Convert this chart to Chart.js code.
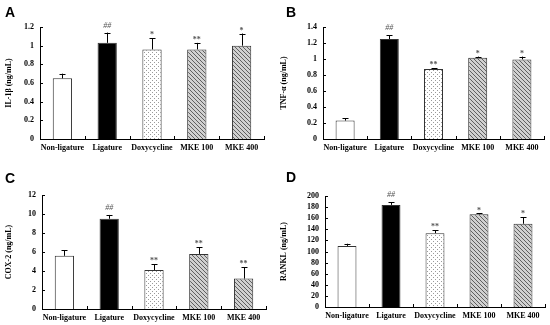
<!DOCTYPE html>
<html>
<head>
<meta charset="utf-8">
<script src="https://cdn.jsdelivr.net/npm/chart.js@4.4.1/dist/chart.umd.min.js"></script>
<style>
  body { margin: 0; background: #fff; }
  #wrap { position: relative; width: 550px; height: 325px; overflow: hidden; }
  canvas { position: absolute; }
  .lbl { position: absolute; font: bold 14px "Liberation Sans", Arial, sans-serif; color: #000; }
</style>
</head>
<body>
<div id="wrap">
  <canvas id="cA" width="275" height="163" style="left:0;top:0"></canvas>
  <canvas id="cB" width="275" height="163" style="left:275px;top:0"></canvas>
  <canvas id="cC" width="275" height="162" style="left:0;top:163px"></canvas>
  <canvas id="cD" width="275" height="162" style="left:275px;top:163px"></canvas>
  <div class="lbl" style="left:5px;top:4px">A</div>
  <div class="lbl" style="left:286px;top:4px">B</div>
  <div class="lbl" style="left:5px;top:170px">C</div>
  <div class="lbl" style="left:286px;top:169px">D</div>
</div>
<script>
// groups on the x axis
const groups = ["Non-ligature", "Ligature", "Doxycycline", "MKE 100", "MKE 400"];

// A: IL-1β
const il1bMean = [0.65, 1.03, 0.96, 0.96, 1.00];
const il1bErr = [0.05, 0.11, 0.12, 0.07, 0.13];
const il1bMarks = ["", "##", "*", "**", "*"];

// B: TNF-α
const tnfMean = [0.23, 1.25, 0.875, 1.015, 0.995];
const tnfErr = [0.03, 0.05, 0.01, 0.015, 0.035];
const tnfMarks = ["", "##", "**", "*", "*"];

// C: COX-2
const coxMean = [5.6, 9.5, 4.1, 5.8, 3.2];
const coxErr = [0.6, 0.4, 0.6, 0.7, 1.2];
const coxMarks = ["", "##", "**", "**", "**"];

// D: RANKL
const ranklMean = [110, 184, 133, 167, 150];
const ranklErr = [4, 5, 5, 1.5, 12];
const ranklMarks = ["", "##", "**", "*", "*"];

const serif = "'Liberation Serif', 'Times New Roman', serif";

function makePattern(kind) {
    const c = document.createElement("canvas");
    c.width = 4; c.height = 4;
    const g = c.getContext("2d");
    if (kind === "dots") {
        g.fillStyle = "#ffffff";
        g.fillRect(0, 0, 4, 4);
        g.fillStyle = "#9a9a9a";
        g.fillRect(0, 0, 1, 1);
        g.fillRect(2, 2, 1, 1);
    } else {
        g.fillStyle = "#d0d0d0";
        g.fillRect(0, 0, 4, 4);
        g.fillStyle = "#606060";
        for (let i = 0; i < 4; i++) {
            const j = kind === "hatchA" ? i : 3 - i;
            g.fillRect(i, j, 1, 1);
        }
    }
    return g.createPattern(c, "repeat");
}

const fills = ["#ffffff", "#000000", makePattern("dots"), makePattern("hatchA"), makePattern("hatchA")];

// error bars, significance marks and inward ticks
const extrasPlugin = {
    id: "extras",
    afterDatasetsDraw(chart) {
        const ctx = chart.ctx;
        const ys = chart.scales.y;
        const xs = chart.scales.x;
        const ds = chart.data.datasets[0];
        const meta = chart.getDatasetMeta(0);
        ctx.save();
        ctx.strokeStyle = "#000";
        ctx.lineWidth = 1;
        meta.data.forEach((bar, i) => {
            const top = ys.getPixelForValue(ds.data[i] + ds.errors[i]);
            const x = Math.round(bar.x) + 0.5;
            ctx.beginPath();
            ctx.moveTo(x, bar.y);
            ctx.lineTo(x, top);
            ctx.moveTo(x - 3, Math.round(top) + 0.5);
            ctx.lineTo(x + 3, Math.round(top) + 0.5);
            ctx.stroke();
            const m = ds.marks[i];
            if (m) {
                ctx.fillStyle = "#555";
                ctx.font = (m === "##" ? "italic " : "bold ") + "8px " + serif;
                ctx.textAlign = "center";
                ctx.textBaseline = "bottom";
                ctx.fillText(m, bar.x, top - 3 + (m === "##" ? 0 : 4));
            }
        });
        // y ticks pointing into the plot
        ys.ticks.forEach((t) => {
            const py = Math.round(ys.getPixelForValue(t.value)) + 0.5;
            ctx.beginPath();
            ctx.moveTo(xs.left, py);
            ctx.lineTo(xs.left + 3, py);
            ctx.stroke();
        });
        // x ticks between categories, pointing up
        for (let i = 0; i < groups.length; i++) {
            const px = Math.round(xs.getPixelForValue(i + 0.5)) + 0.5;
            ctx.beginPath();
            ctx.moveTo(px, ys.bottom);
            ctx.lineTo(px, ys.bottom - 3);
            ctx.stroke();
        }
        ctx.restore();
    }
};

function makeChart(id, mean, err, marks, yMax, yStep, yTitle, box) {
    return new Chart(document.getElementById(id), {
        type: "bar",
        data: {
            labels: groups,
            datasets: [{
                data: mean,
                errors: err,
                marks: marks,
                backgroundColor: fills,
                borderColor: "#333",
                borderWidth: 1,
                barPercentage: 0.43,
                categoryPercentage: 1
            }]
        },
        options: {
            responsive: false,
            animation: false,
            layout: { padding: { top: box.top, right: box.right, left: 0, bottom: 0 } },
            plugins: { legend: { display: false }, tooltip: { enabled: false } },
            scales: {
                x: {
                    offset: true,
                    grid: { display: false, drawTicks: false },
                    border: { display: true, color: "#000", width: 1 },
                    ticks: { color: "#000", font: { family: serif, size: 8, weight: "bold" }, padding: 4, maxRotation: 0, autoSkip: false },
                    afterFit: (s) => { s.height = box.xh; }
                },
                y: {
                    min: 0,
                    max: yMax,
                    grid: { display: false, drawTicks: false },
                    border: { display: true, color: "#000", width: 1 },
                    ticks: {
                        stepSize: yStep, autoSkip: false, color: "#000",
                        font: { family: serif, size: 8, weight: "bold" }, padding: 6,
                        callback: (v) => String(Math.round(v * 10) / 10)
                    },
                    title: { display: true, text: yTitle, color: "#000", font: { family: serif, size: 8, weight: "bold" }, padding: { top: 4, bottom: 0 } },
                    afterFit: (s) => { s.width = box.left; }
                }
            }
        },
        plugins: [extrasPlugin]
    });
}

makeChart("cA", il1bMean, il1bErr, il1bMarks, 1.2, 0.2, "IL-1β (ng/mL)", { left: 40, top: 27, right: 11, xh: 24 });
makeChart("cB", tnfMean, tnfErr, tnfMarks, 1.4, 0.2, "TNF-α (ng/mL)", { left: 48, top: 27, right: 6, xh: 24 });
makeChart("cC", coxMean, coxErr, coxMarks, 12, 2, "COX-2 (ng/mL)", { left: 42, top: 32, right: 9, xh: 16 });
makeChart("cD", ranklMean, ranklErr, ranklMarks, 200, 20, "RANKL (ng/mL)", { left: 50, top: 33, right: 5, xh: 18 });
</script>
</body>
</html>
